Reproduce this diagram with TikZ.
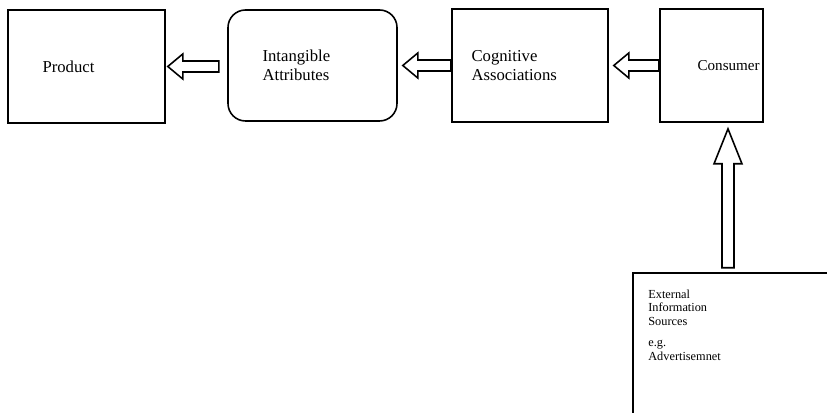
\documentclass[tikz,border=0pt]{standalone}
\usepackage{fontspec}
\setmainfont{Liberation Serif}
\usetikzlibrary{positioning}

\begin{document}
\begin{tikzpicture}[
  stage/.style={draw, line width=0.9pt, minimum height=2.26cm, inner sep=0pt},
  boxtext/.style={align=left, inner sep=0pt, font=\fontsize{9.5}{10.5}\selectfont},
  smalltext/.style={align=left, inner sep=0pt, font=\fontsize{7}{7.7}\selectfont},
  hollow/.style={draw, line width=0.9pt, fill=white, line join=miter}
]
\clip (0,0) rectangle (16.54,8.26);

\node[stage, minimum width=3.14cm] (product) at (1.73,6.93) {};
\node[stage, minimum width=3.38cm, minimum height=2.22cm, rounded corners=0.35cm] (intangible) at (6.25,6.95) {};
\node[stage, minimum width=3.12cm] (cognitive) at (10.6,6.95) {};
\node[stage, minimum width=2.06cm] (consumer) at (14.23,6.95) {};
\node[stage, minimum width=4.4cm, minimum height=3cm, anchor=north west] (external) at (12.64,2.82) {};

\node[boxtext, right=0.7cm of product.west] (product-text) {Product};
\node[boxtext, right=0.7cm of intangible.west] (intangible-text) {Intangible\\Attributes};
\node[boxtext, right=0.4cm of cognitive.west] (cognitive-text) {Cognitive\\Associations};
\node[boxtext, font=\fontsize{8.6}{10}\selectfont, right=0.76cm of consumer.west] (consumer-text) {Consumer};
\node[smalltext, anchor=north west] (external-text) at ([xshift=0.32cm, yshift=-0.35cm]external.north west)
  {External\\Information\\Sources\\[4.3pt]e.g.\\Advertisemnet};

% hollow block arrows
\draw[hollow] ([xshift=0.04cm]product.east) -- ++(0.3,0.25) -- ++(0,-0.14) -- ++(0.72,0)
  -- ++(0,-0.22) -- ++(-0.72,0) -- ++(0,-0.14) -- cycle;
\draw[hollow] ([xshift=0.1cm]intangible.east) -- ++(0.3,0.25) -- ++(0,-0.14) -- ++(0.66,0)
  -- ++(0,-0.22) -- ++(-0.66,0) -- ++(0,-0.14) -- cycle;
\draw[hollow] ([xshift=0.1cm]cognitive.east) -- ++(0.3,0.25) -- ++(0,-0.14) -- ++(0.6,0)
  -- ++(0,-0.22) -- ++(-0.6,0) -- ++(0,-0.14) -- cycle;
\draw[hollow] ([xshift=0.33cm, yshift=-0.12cm]consumer.south) -- ++(0.28,-0.7) -- ++(-0.16,0)
  -- ++(0,-2.08) -- ++(-0.24,0) -- ++(0,2.08) -- ++(-0.16,0) -- cycle;
\end{tikzpicture}
\end{document}
